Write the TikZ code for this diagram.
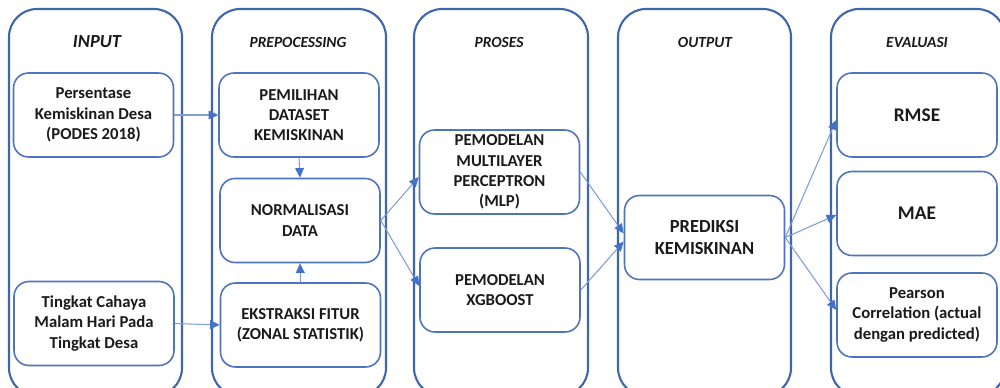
\documentclass[tikz,border=0pt]{standalone}
\usepackage{fontspec}
\setmainfont{Carlito}
\usetikzlibrary{arrows.meta,calc}
\definecolor{colline}{HTML}{3F65AC}
\definecolor{boxline}{HTML}{4F74BE}
\definecolor{flowline}{HTML}{7E9DD9}
\definecolor{flowtip}{HTML}{4472C4}
\definecolor{ink}{HTML}{1A1A1A}

\begin{document}
\begin{tikzpicture}[x=0.02cm,y=-0.02cm,line join=round,
  col/.style={draw=colline,line width=1.2pt,rounded corners=16pt},
  box/.style={draw=boxline,line width=0.9pt,rounded corners=8.5pt,minimum width=3.2cm,minimum height=1.68cm,
    align=center,inner sep=1pt,text=ink,font=\bfseries\fontsize{9.5}{11.5}\selectfont},
  bigbox/.style={box,font=\bfseries\fontsize{10.5}{13}\selectfont},
  ttl/.style={text=ink,font=\bfseries\itshape\fontsize{8.8}{11}\selectfont},
  flow/.style={-{Triangle[length=5.5pt,width=5pt,color=flowtip]},line width=0.6pt,flowline}]
  \useasboundingbox (0,0) rectangle (1000,388);
  \fill[white] (0,0) rectangle (1000,388);
  \clip (0,0) rectangle (1000,388);

  % ---- columns ----
  \draw[col] (9,9) rectangle (182,396);
  \draw[col] (212,9) rectangle (386,396);
  \draw[col] (414,9) rectangle (588,396);
  \draw[col] (618,9) rectangle (791,396);
  \draw[col] (831,9) rectangle (1005,396);

  \node[ttl,font=\bfseries\itshape\fontsize{10.5}{12}\selectfont] (tIn) at (97,42) {INPUT};
  \node[ttl] (tPre) at (298,42) {PREPOCESSING};
  \node[ttl] (tPro) at (499,42) {PROSES};
  \node[ttl] (tOut) at (705,42) {OUTPUT};
  \node[ttl] (tEva) at (917,42) {EVALUASI};

  % ---- input ----
  \node[box] (pers) at (93.5,115) {Persentase\\Kemiskinan Desa\\(PODES 2018)};
  \node[box] (tingkat) at (94,323.5) {Tingkat Cahaya\\Malam Hari Pada\\Tingkat Desa};

  % ---- preprocessing ----
  \node[box] (pemilihan) at (299,115) {PEMILIHAN\\DATASET\\KEMISKINAN};
  \node[box] (normal) at (300,220.5) {NORMALISASI\\DATA};
  \node[box] (ekstraksi) at (300.5,325) {EKSTRAKSI FITUR\\(ZONAL STATISTIK)};

  % ---- proses ----
  \node[box] (mlp) at (499.5,172) {PEMODELAN\\MULTILAYER\\PERCEPTRON\\(MLP)};
  \node[box] (xgb) at (500,290) {PEMODELAN\\XGBOOST};

  % ---- output ----
  \node[bigbox] (prediksi) at (704.5,237.5) {PREDIKSI\\KEMISKINAN};

  % ---- evaluasi ----
  \node[box,font=\bfseries\fontsize{11}{13}\selectfont] (rmse) at (917,115) {RMSE};
  \node[box,font=\bfseries\fontsize{11}{13}\selectfont] (mae) at (917,213.5) {MAE};
  \node[box] (pearson) at (917,315) {Pearson\\Correlation (actual\\dengan predicted)};

  % ---- flows ----
  \draw[flow] (pers.east) -- (pemilihan.west);
  \draw[flow] (tingkat.east) -- (ekstraksi.west);
  \draw[flow] (pemilihan.south) -- (normal.north);
  \draw[flow] (ekstraksi.north) -- (normal.south);
  \draw[flow] (normal.east) -- ($(mlp.west)+(0,5)$);
  \draw[flow] (normal.east) -- ($(xgb.west)+(0,-4)$);
  \draw[flow] (mlp.east) -- ($(prediksi.west)+(0,-4)$);
  \draw[flow] (xgb.east) -- ($(prediksi.west)+(0,4)$);
  \draw[flow] (prediksi.east) -- ($(rmse.west)+(0,5)$);
  \draw[flow] (prediksi.east) -- ($(mae.west)+(0,1.5)$);
  \draw[flow] (prediksi.east) -- ($(pearson.west)+(0,-5)$);
\end{tikzpicture}
\end{document}
